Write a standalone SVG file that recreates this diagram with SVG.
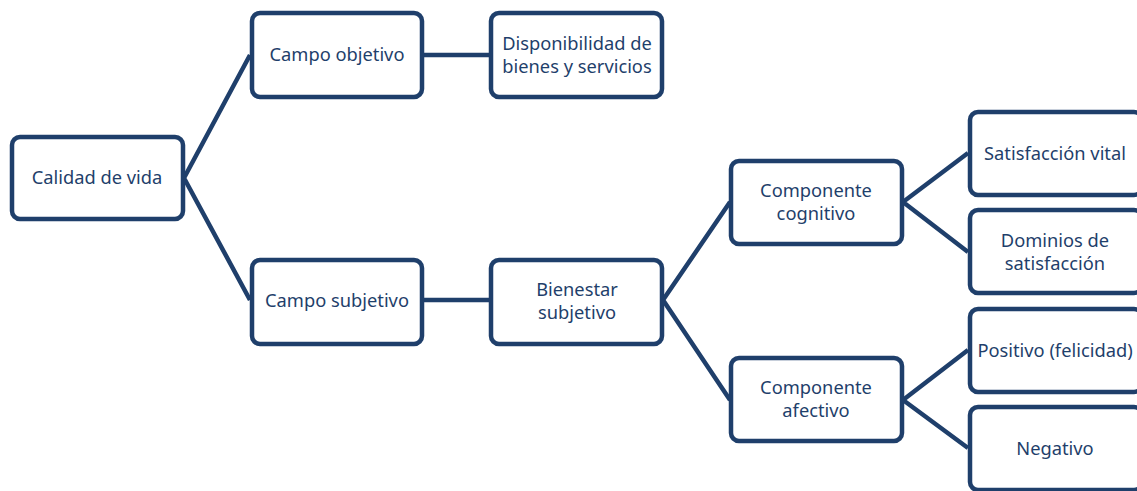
<svg xmlns="http://www.w3.org/2000/svg" width="1137" height="491" viewBox="0 0 1137 491">
<style>
.box{fill:#fff;stroke:#1f3f6b;stroke-width:4.5}
.con{stroke:#1f3f6b;stroke-width:4.5;fill:none;stroke-linejoin:round}
text{font-family:"Noto Sans","Open Sans",sans-serif;font-size:18.3px;fill:#1f3f6b;text-anchor:middle;dominant-baseline:central}
</style>
<rect width="1137" height="491" fill="#fff"/>
<g id="connectors">
<polyline class="con" points="250,55 184,178 250,300"/>
<line class="con" x1="422" y1="55" x2="490" y2="55"/>
<line class="con" x1="422" y1="300" x2="490" y2="300"/>
<polyline class="con" points="730,202 663,300 730,400"/>
<polyline class="con" points="968,153 903,202 968,252"/>
<polyline class="con" points="968,350 903,400 968,448"/>
</g>
<g id="n1"><rect class="box" x="12" y="137" width="171" height="82" rx="8"/><text x="97" y="176.5">Calidad de vida</text></g>
<g id="n2"><rect class="box" x="252" y="13" width="170" height="84" rx="8"/><text x="337" y="53.5">Campo objetivo</text></g>
<g id="n3"><rect class="box" x="491" y="13" width="171" height="84" rx="8"/><text x="577" y="42.5">Disponibilidad de</text><text x="577" y="65.5">bienes y servicios</text></g>
<g id="n4"><rect class="box" x="252" y="260" width="170" height="84" rx="8"/><text x="337" y="299.5">Campo subjetivo</text></g>
<g id="n5"><rect class="box" x="491" y="260" width="171" height="84" rx="8"/><text x="577" y="288.5">Bienestar</text><text x="577" y="311.5">subjetivo</text></g>
<g id="n6"><rect class="box" x="731" y="161" width="171" height="83" rx="8"/><text x="816" y="189.5">Componente</text><text x="816" y="212.5">cognitivo</text></g>
<g id="n7"><rect class="box" x="731" y="358" width="171" height="83" rx="8"/><text x="816" y="386.5">Componente</text><text x="816" y="409.5">afectivo</text></g>
<g id="n8"><rect class="box" x="970" y="112" width="172" height="83" rx="8"/><text x="1055" y="152.5">Satisfacción vital</text></g>
<g id="n9"><rect class="box" x="970" y="210" width="172" height="83" rx="8"/><text x="1055" y="239.5">Dominios de</text><text x="1055" y="262.5">satisfacción</text></g>
<g id="n10"><rect class="box" x="970" y="309" width="172" height="83" rx="8"/><text x="1055" y="349.5">Positivo (felicidad)</text></g>
<g id="n11"><rect class="box" x="970" y="407" width="172" height="83" rx="8"/><text x="1055" y="447.5">Negativo</text></g>
</svg>
